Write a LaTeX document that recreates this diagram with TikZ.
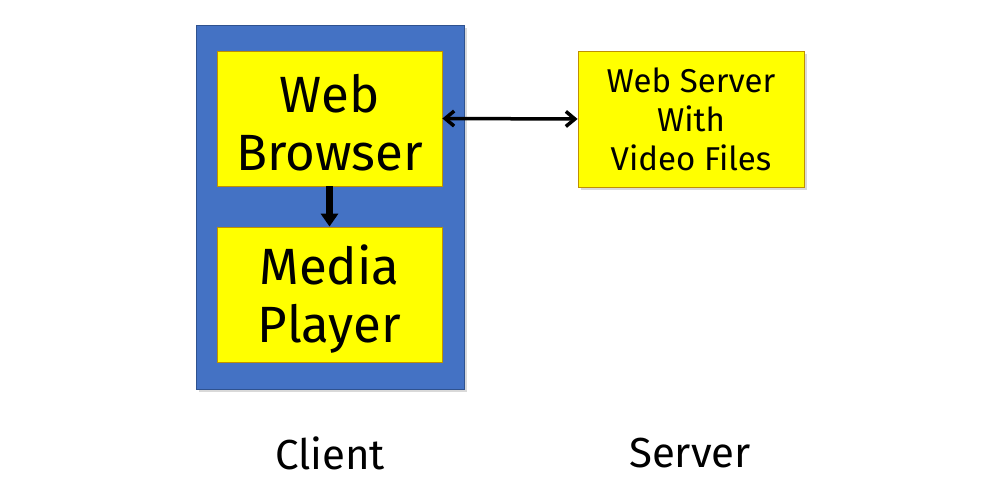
\documentclass[tikz,border=0pt]{standalone}
\usepackage{fontspec}
\setmainfont{Fira Sans}
\usetikzlibrary{shadows,arrows.meta}
\definecolor{bluefill}{HTML}{4472C4}
\definecolor{blueedge}{HTML}{2F528F}
\definecolor{ybox}{HTML}{FFFF00}
\definecolor{yedge}{HTML}{BF9000}
\begin{document}
\begin{tikzpicture}[x=1pt,y=-1pt,
  yellowbox/.style={draw=yedge, line width=0.8pt, fill=ybox, inner sep=0pt, align=center},
  shad/.style={drop shadow={opacity=0.25, fill=black!60, shadow xshift=3pt, shadow yshift=-3pt}},
  biglabel/.style={font=\fontsize{51}{58}\selectfont, align=center, inner sep=0pt},
  smalllabel/.style={font=\fontsize{33}{39}\selectfont},
  caption/.style={font=\fontsize{42}{46}\selectfont, inner sep=0pt}]
\useasboundingbox (0,0) rectangle (1007,486);
\node[shad, draw=blueedge, line width=0.8pt, fill=bluefill, minimum width=268pt, minimum height=364pt, inner sep=0pt] (client) at (330,207) {};
\node[yellowbox, minimum width=225pt, minimum height=135pt] (browser) at (329.5,118.5) {};
\node[yellowbox, minimum width=225pt, minimum height=135pt] (player) at (329.5,294.5) {};
\node[biglabel] (browsertext) at ([yshift=-4pt]browser.center) {Web\\Browser};
\node[biglabel] (playertext) at ([yshift=-5pt]player.center) {Media\\Player};
\node[yellowbox, shad, smalllabel, minimum width=226pt, minimum height=136pt] (server) at (691,119) {Web Server\\With\\Video Files};
\draw[line width=6.5pt, -{Triangle[length=13pt,width=17pt]}] (browser.south) -- (player.north);
\draw[line width=3.5pt, {Straight Barb[length=9pt,width=15pt]}-{Straight Barb[length=9pt,width=15pt]}] (browser.east) -- (server.west);
\node[caption] (clientlabel) at (330,453) {Client};
\node[caption] (serverlabel) at (690,453) {Server};
\end{tikzpicture}
\end{document}
